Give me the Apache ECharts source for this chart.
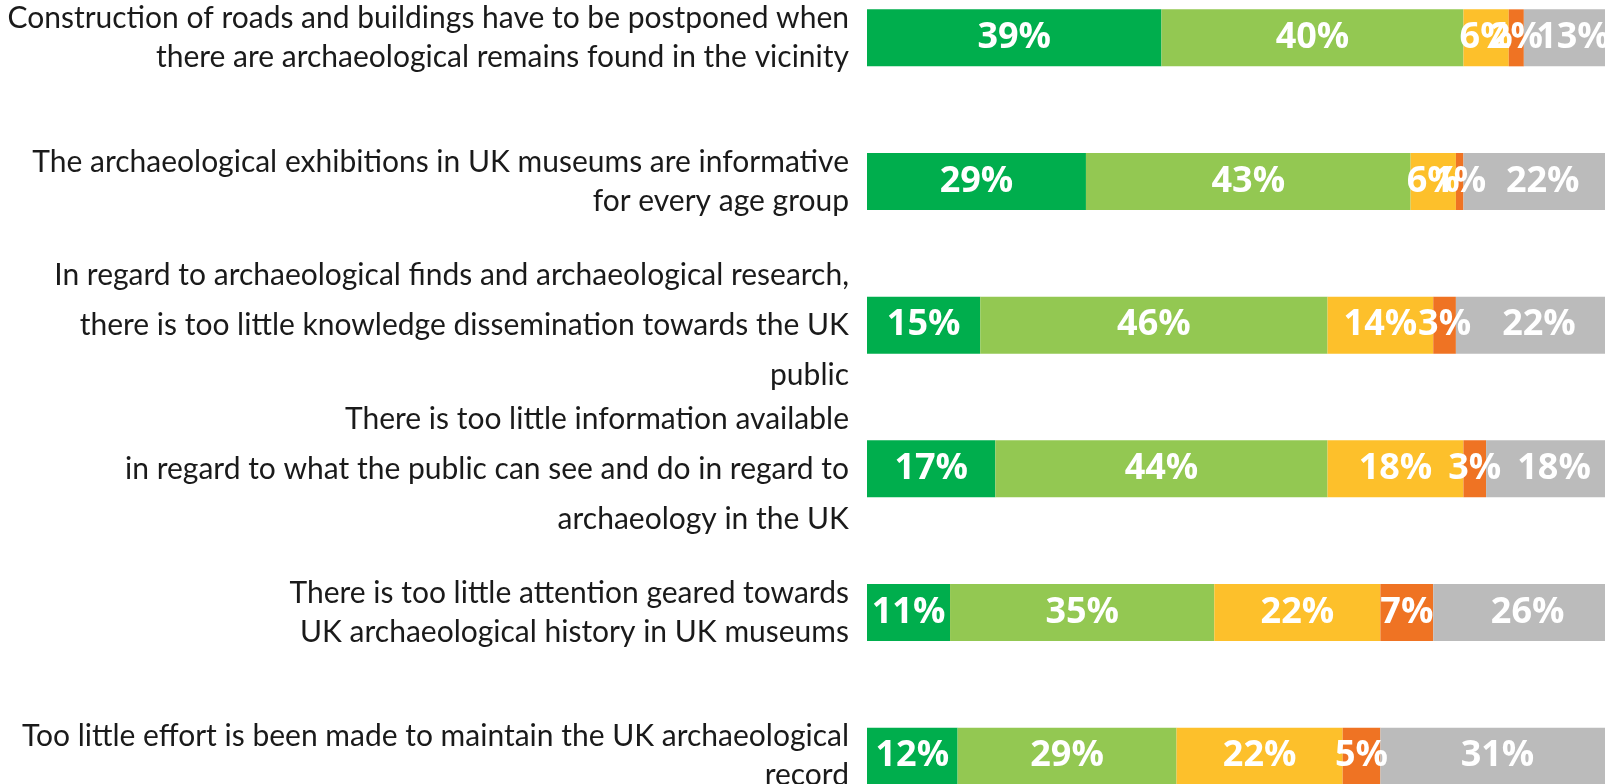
<!DOCTYPE html>
<html>
<head>
<meta charset="utf-8">
<script src="https://cdn.jsdelivr.net/npm/echarts@6/dist/echarts.min.js"></script>
<style>
html, body {margin:0; padding:0; background:#fff;}
#main {width:1605px; height:784px;}
</style>
</head>
<body>
<div id="main"></div>
<script>
// categories (top to bottom)
var categories = [
    "Construction of roads and buildings have to be postponed when\nthere are archaeological remains found in the vicinity",
    "The archaeological exhibitions in UK museums are informative\nfor every age group",
    "In regard to archaeological finds and archaeological research,\nthere is too little knowledge dissemination towards the UK\npublic",
    "There is too little information available\nin regard to what the public can see and do in regard to\narchaeology in the UK",
    "There is too little attention geared towards\nUK archaeological history in UK museums",
    "Too little effort is been made to maintain the UK archaeological\nrecord"
];
// series values, percent
var stronglyAgree    = [39, 29, 15, 17, 11, 12];
var agree            = [40, 43, 46, 44, 35, 29];
var disagree         = [6, 6, 14, 18, 22, 22];
var stronglyDisagree = [2, 1, 3, 3, 7, 5];
var noOpinion        = [13, 22, 22, 18, 26, 31];

var seriesNames = ['Strongly agree', 'Agree', 'Disagree', 'Strongly disagree', 'No opinion'];
var seriesData = [stronglyAgree, agree, disagree, stronglyDisagree, noOpinion];
var seriesColors = ['#00AE4D', '#93C852', '#FDC02B', '#EF7323', '#BBBBBB'];

var series = [];
for (var i = 0; i < seriesData.length; i++) {
    series.push({
        name: seriesNames[i],
        type: 'bar',
        stack: 'total',
        barWidth: 57,
        data: seriesData[i],
        itemStyle: {color: seriesColors[i]},
        label: {
            show: true,
            position: 'inside',
            formatter: '{c}%',
            color: '#fff',
            fontFamily: 'Open Sans',
            fontWeight: 'bold',
            fontSize: 36
        }
    });
}

var option = {
    animation: false,
    // the chart is cropped at the right and top/bottom, so the grid runs past the canvas
    grid: {left: 867, top: -34, width: 755, height: 862, outerBoundsMode: 'none', containLabel: false},
    xAxis: {type: 'value', min: 0, max: 100, show: false},
    yAxis: {
        type: 'category',
        inverse: true,
        data: categories,
        axisLine: {show: false},
        axisTick: {show: false},
        axisLabel: {
            margin: 18,
            align: 'right',
            formatter: function(value) {
                var lines = value.split('\n');
                var style = lines.length > 2 ? 'c' : 'b';
                return lines.map(function(l) { return '{' + style + '|' + l + '}'; }).join('\n');
            },
            rich: {
                b: {fontFamily: 'Lato', fontSize: 30, lineHeight: 39, color: '#1a1a1a', align: 'right'},
                c: {fontFamily: 'Lato', fontSize: 30, lineHeight: 50, color: '#1a1a1a', align: 'right'}
            }
        }
    },
    series: series
};

var myChart = echarts.init(document.getElementById('main'));
myChart.setOption(option);
</script>
</body>
</html>
